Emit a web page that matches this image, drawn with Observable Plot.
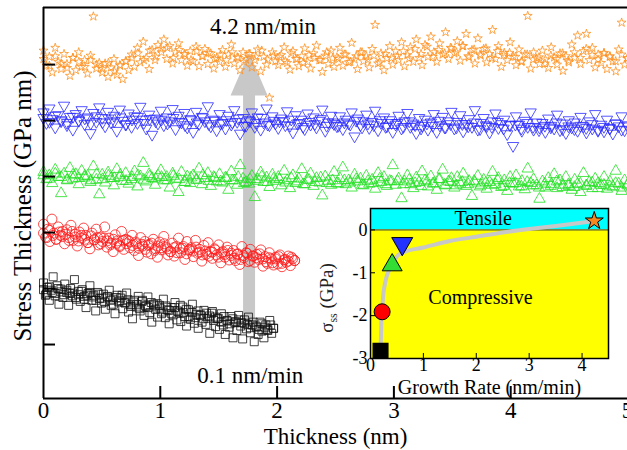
<!DOCTYPE html>
<html>
<head>
<meta charset="utf-8">
<script src="https://cdn.jsdelivr.net/npm/d3@7"></script>
<script src="https://cdn.jsdelivr.net/npm/@observablehq/plot@0.6"></script>
<style>
  html, body { margin: 0; padding: 0; background: white; }
  #wrap { position: relative; width: 627px; height: 450px; overflow: hidden; }
  #inset { position: absolute; left: 300px; top: 200px; }
  svg { background: transparent !important; }
</style>
</head>
<body>
<div id="wrap"><div id="main"></div><div id="inset"></div></div>
<script>
// ---------- Main panel data (stress thickness, offset units; thickness in nm) ----------
const xTicks = [0, 1, 2, 3, 4, 5];
const yTicks = [0, 1, 2, 3, 4, 5];

// end thickness of each run (nm); samples are evenly spaced in thickness
const blackEnd = 1.97, redEnd = 2.15, greenEnd = 5.0, blueEnd = 5.0, orangeEnd = 5.0;

const blackY = [
  1.10,0.88,1.02,0.79,0.97,1.21,0.91,1.05,0.72,0.99,
  0.84,1.08,0.93,0.70,1.00,0.87,1.16,0.81,0.95,0.77,
  0.98,0.86,0.66,0.91,1.05,0.79,0.88,0.60,0.93,0.82,
  0.74,0.90,0.63,0.85,0.97,0.70,0.81,0.55,0.88,0.76,
  0.83,0.64,0.75,0.92,0.58,0.71,0.46,0.79,0.67,0.86,
  0.60,0.77,0.52,0.68,0.85,0.57,0.40,0.72,0.63,0.49,
  0.70,0.55,0.81,0.48,0.62,0.37,0.66,0.53,0.75,0.44,
  0.58,0.41,0.67,0.50,0.33,0.62,0.45,0.72,0.38,0.54,
  0.29,0.52,0.40,0.61,0.36,0.47,0.20,0.56,0.43,0.32,
  0.46,0.27,0.55,0.35,0.18,0.42,0.31,0.50,0.12,0.39,
  0.25,0.44,0.33,0.10,0.38,0.28,0.49,0.21,0.35,0.05,
  0.31,0.18,0.40,0.24,0.12,0.35,0.27,0.43,0.20,0.29];
const blackCoreY = [
  0.98,0.90,1.03,0.93,0.87,1.00,0.94,0.89,0.97,0.91,
  0.92,0.84,0.89,0.95,0.81,0.88,0.93,0.85,0.79,0.90,
  0.83,0.76,0.86,0.79,0.72,0.84,0.78,0.88,0.74,0.80,
  0.68,0.76,0.71,0.64,0.79,0.70,0.66,0.75,0.69,0.73,
  0.65,0.58,0.69,0.61,0.55,0.66,0.60,0.70,0.57,0.63,
  0.50,0.57,0.48,0.60,0.53,0.46,0.56,0.51,0.59,0.49,
  0.47,0.40,0.50,0.43,0.37,0.46,0.41,0.52,0.39,0.44,
  0.36,0.30,0.40,0.33,0.27,0.37,0.31,0.25,0.35,0.29];

const redY = [
  2.15,1.92,2.06,1.84,2.24,1.99,1.88,2.10,1.95,2.02,
  1.80,2.05,1.91,2.13,1.86,1.97,1.76,2.01,1.90,2.08,
  1.95,1.82,1.71,1.99,1.87,2.06,1.78,1.92,1.84,2.10,
  1.74,1.90,1.81,1.66,1.96,1.85,1.77,2.02,1.70,1.88,
  1.86,1.73,1.95,1.68,1.80,1.59,1.91,1.76,1.84,1.65,
  1.79,1.62,1.88,1.71,1.56,1.83,1.69,1.93,1.74,1.60,
  1.66,1.81,1.58,1.75,1.90,1.64,1.72,1.52,1.84,1.69,
  1.73,1.57,1.86,1.63,1.70,1.49,1.77,1.61,1.82,1.66,
  1.54,1.71,1.60,1.78,1.46,1.66,1.56,1.74,1.51,1.63,
  1.68,1.50,1.62,1.43,1.75,1.55,1.64,1.48,1.70,1.58,
  1.47,1.61,1.52,1.69,1.40,1.57,1.45,1.64,1.53,1.42,
  1.56,1.44,1.60,1.39,1.51,1.47,1.58,1.41,1.53,1.50];
const redCoreY = [
  1.99,1.91,2.04,1.95,1.88,2.01,1.93,1.97,1.86,2.02,
  1.92,1.85,1.95,1.88,1.82,1.94,1.87,1.91,1.80,1.90,
  1.85,1.78,1.88,1.81,1.75,1.86,1.80,1.84,1.77,1.83,
  1.72,1.79,1.70,1.77,1.81,1.68,1.76,1.73,1.80,1.71,
  1.66,1.73,1.64,1.71,1.75,1.62,1.70,1.67,1.74,1.65,
  1.60,1.67,1.58,1.65,1.69,1.56,1.64,1.61,1.68,1.59,
  1.54,1.61,1.52,1.59,1.63,1.50,1.58,1.55,1.62,1.53,
  1.48,1.55,1.46,1.53,1.57,1.45,1.52,1.49,1.56,1.50];

const greenY = [
  3.08,2.95,3.02,2.88,3.12,2.99,2.70,3.05,2.93,3.15,
  2.96,3.04,2.86,3.10,2.98,3.01,2.90,3.18,2.94,2.68,
  3.03,2.89,3.07,2.97,2.84,3.13,2.99,2.92,3.06,2.87,
  2.95,3.09,2.82,3.00,3.24,2.91,3.04,2.97,2.85,3.02,
  3.11,2.93,2.99,2.80,3.05,2.96,2.72,3.08,2.90,3.00,
  2.88,3.02,2.94,3.14,2.86,2.97,3.06,2.83,2.99,2.91,
  3.04,2.89,2.98,2.76,3.09,2.93,2.85,3.20,2.96,2.90,
  2.87,3.01,2.63,2.95,3.07,2.90,2.98,2.81,3.03,2.92,
  2.99,2.84,3.10,2.93,2.79,3.02,2.88,2.96,3.13,2.86,
  2.94,3.05,2.83,2.97,2.89,2.66,3.00,2.92,2.85,3.08,
  2.88,2.97,3.16,2.86,2.93,2.80,3.03,2.91,2.96,2.84,
  3.01,2.87,2.94,2.78,3.06,2.90,2.99,2.83,2.92,3.20,
  2.85,2.96,2.61,2.91,3.02,2.86,2.79,2.98,2.90,3.09,
  2.93,2.82,3.00,2.88,2.76,2.95,3.12,2.84,2.91,2.97,
  2.80,2.99,2.87,3.05,2.83,2.92,2.65,2.89,3.01,2.85,
  2.94,2.78,2.90,3.08,2.86,2.97,2.81,2.93,2.74,2.99,
  2.87,3.02,2.82,2.92,2.77,3.14,2.88,2.95,2.84,2.60,
  2.91,2.80,2.97,2.86,3.04,2.79,2.93,2.85,2.99,2.83,
  2.76,2.94,2.87,2.72,3.06,2.84,2.90,2.79,2.96,2.88,
  2.85,2.99,2.78,2.91,2.82,3.10,2.87,2.74,2.93,2.86];
const greenCoreY = [
  3.02,2.96,3.05,2.99,2.94,3.03,2.97,3.01,2.93,3.04,
  2.95,3.01,2.97,3.03,2.92,2.99,3.02,2.94,3.00,2.96,
  2.99,2.93,3.01,2.95,2.90,2.98,2.94,3.02,2.92,2.97,
  2.91,2.97,2.93,2.99,2.88,2.95,2.92,3.00,2.90,2.96,
  2.95,2.89,2.97,2.91,2.86,2.94,2.90,2.98,2.88,2.93,
  2.87,2.93,2.89,2.95,2.85,2.92,2.88,2.96,2.86,2.91,
  2.92,2.86,2.94,2.88,2.83,2.91,2.87,2.95,2.85,2.90,
  2.84,2.90,2.86,2.92,2.82,2.89,2.85,2.93,2.83,2.88,
  2.88,2.82,2.90,2.84,2.80,2.87,2.83,2.91,2.81,2.86,
  2.81,2.87,2.83,2.89,2.79,2.85,2.82,2.88,2.80,2.84];

const blueY = [
  4.15,3.96,4.22,4.03,3.88,4.10,3.99,4.27,3.92,4.07,
  3.84,4.12,4.01,4.19,3.94,4.06,3.78,4.14,3.98,4.24,
  4.05,3.90,4.16,3.97,4.09,3.82,4.20,4.00,3.93,4.13,
  3.89,4.08,3.96,4.25,4.02,3.86,4.11,3.75,4.04,3.95,
  4.18,3.92,4.06,3.99,4.21,3.85,4.09,3.97,4.14,3.88,
  4.03,3.80,4.16,3.94,4.07,3.99,4.26,3.90,4.02,3.83,
  4.12,3.96,3.86,4.09,3.93,4.19,3.98,3.77,4.05,3.91,
  4.01,4.15,3.89,4.06,3.84,3.97,4.22,3.92,4.08,3.95,
  3.87,4.04,3.99,4.17,3.91,3.79,4.10,3.96,4.02,3.85,
  4.13,3.93,4.06,3.88,4.00,4.20,3.82,3.97,4.09,3.94,
  3.90,4.08,3.85,4.02,3.95,4.15,3.72,4.04,3.92,3.99,
  4.11,3.87,3.98,4.18,3.83,3.96,4.06,3.90,4.01,3.80,
  3.93,4.09,3.86,3.99,4.14,3.89,3.95,3.78,4.05,3.91,
  4.02,3.84,3.97,4.12,3.80,3.92,4.07,3.88,3.99,4.16,
  3.86,3.98,4.10,3.81,3.94,4.03,3.89,4.19,3.84,3.96,
  4.05,3.90,3.79,3.99,4.13,3.87,3.94,4.02,3.76,3.92,
  3.55,4.08,3.93,3.82,4.00,3.89,4.15,3.84,3.97,3.88,
  3.96,3.80,4.04,3.91,3.86,4.11,3.83,3.95,3.78,4.01,
  3.88,3.97,3.82,4.07,3.90,3.79,3.99,3.86,4.12,3.84,
  3.93,3.81,4.02,3.87,3.77,3.95,3.90,4.08,3.83,3.92];
const blueCoreY = [
  4.05,3.98,4.09,4.01,3.96,4.07,4.00,4.04,3.95,4.08,
  3.97,4.04,3.99,4.06,3.94,4.02,4.07,3.96,4.03,3.99,
  4.02,3.95,4.05,3.98,3.92,4.01,3.97,4.06,3.94,4.00,
  3.95,4.01,3.97,4.04,3.91,3.99,3.96,4.05,3.93,4.00,
  3.99,3.92,4.02,3.95,3.89,3.98,3.94,4.03,3.91,3.97,
  3.91,3.97,3.93,4.00,3.88,3.95,3.92,4.01,3.89,3.96,
  3.96,3.89,3.99,3.92,3.86,3.95,3.91,4.00,3.88,3.94,
  3.88,3.94,3.90,3.97,3.85,3.92,3.89,3.98,3.86,3.93,
  3.93,3.86,3.96,3.89,3.83,3.91,3.88,3.97,3.85,3.90,
  3.85,3.91,3.87,3.94,3.82,3.89,3.86,3.95,3.84,3.90];

const orangeY = [
  5.25,4.98,5.14,4.86,5.30,5.05,4.92,5.19,5.01,4.80,
  5.12,4.90,5.22,4.96,5.08,4.84,5.16,5.86,4.93,5.03,
  4.86,5.02,4.78,4.95,5.10,4.82,4.99,4.74,5.06,4.90,
  5.18,4.96,5.30,5.04,5.41,5.12,4.92,5.26,5.08,5.35,
  5.28,5.45,5.10,5.33,5.02,5.22,5.38,5.08,5.19,4.98,
  5.24,5.06,5.32,4.97,5.15,5.28,5.01,5.20,4.93,5.11,
  5.05,5.26,4.96,5.18,5.36,5.02,5.13,4.90,5.22,5.09,
  5.19,4.95,5.08,5.27,4.88,5.14,5.00,4.41,5.22,5.06,
  4.99,5.17,5.31,5.03,4.91,5.24,5.10,4.97,5.15,5.29,
  5.05,4.93,5.20,5.34,5.08,4.87,5.16,5.01,5.25,4.96,
  5.13,5.30,4.98,5.18,5.04,5.39,5.09,4.92,5.22,5.06,
  5.15,4.95,5.28,5.71,5.02,5.20,4.90,5.11,5.33,5.00,
  5.24,5.08,5.40,4.97,5.17,5.31,5.05,5.45,5.12,4.99,
  5.35,5.14,5.50,5.22,5.05,5.38,5.18,5.58,5.10,5.29,
  5.20,5.42,5.07,5.33,5.55,5.13,5.26,5.02,5.47,5.16,
  5.28,5.04,5.19,5.62,5.10,5.33,4.96,5.21,5.08,5.40,
  5.14,4.99,5.27,5.06,5.18,5.87,4.93,5.22,5.11,5.01,
  5.25,5.09,4.94,5.31,5.13,5.00,5.20,4.89,5.15,5.04,
  5.36,5.12,5.52,5.01,5.24,5.55,5.08,5.30,4.95,5.18,
  5.03,5.21,4.92,5.15,5.06,4.88,5.27,5.75,5.00,5.12];
const orangeCoreY = [
  5.10,4.98,5.15,5.02,4.94,5.12,5.05,4.96,5.08,5.00,
  4.92,5.03,4.88,4.98,5.06,5.12,5.20,5.08,5.25,5.14,
  5.22,5.30,5.12,5.26,5.18,5.08,5.24,5.15,5.21,5.10,
  5.18,5.08,5.22,5.12,5.05,5.19,5.14,5.25,5.09,5.16,
  5.14,5.06,5.20,5.10,5.03,5.17,5.12,5.08,5.22,5.11,
  5.10,5.18,5.05,5.15,5.22,5.09,5.16,5.04,5.19,5.12,
  5.15,5.24,5.11,5.28,5.19,5.32,5.14,5.26,5.20,5.30,
  5.22,5.33,5.15,5.27,5.18,5.29,5.12,5.24,5.17,5.21,
  5.14,5.05,5.18,5.09,5.13,5.02,5.16,5.10,5.20,5.07,
  5.22,5.12,5.28,5.17,5.09,5.20,5.14,5.06,5.18,5.11];

const arrowX = 1.76, arrowBottom = 0.3, arrowHeadBase = 4.45;
const rateLabels = ["4.2 nm/min", "0.1 nm/min"];
const rateLabelX = [1.88, 1.77];
const rateLabelY = [5.68, -0.55];

// ---------- Inset data ----------
const rates = [0.19, 0.22, 0.41, 0.60, 4.23];          // growth rate (nm/min)
const sigma = [-2.82, -1.91, -0.82, -0.32, 0.21];      // steady-state stress (GPa)
const fitRate  = [0.19, 0.20, 0.21, 0.23, 0.25, 0.32, 0.41, 0.53, 0.69, 1.0, 1.5, 2.0, 2.5, 3.0, 3.5, 4.2];
const fitSigma = [-2.75, -2.4, -2.0, -1.7, -1.42, -1.03, -0.8, -0.58, -0.49, -0.41, -0.26, -0.16, -0.06, 0.02, 0.09, 0.2];
const insetXTicks = [0, 1, 2, 3, 4];
const insetYTicks = [0, -1, -2, -3];

// ---------- build ----------
const serif = "Liberation Serif, Times New Roman, serif";
const toPts = (arr, end) => arr.map((v, i) => ({x: i * end / (arr.length - 1), y: v}));
const series = (a, b, end) => toPts(a, end).concat(toPts(b, end));

const triDown = {
  draw(ctx, size) {
    const y = -Math.sqrt(size / (Math.sqrt(3) * 3));
    ctx.moveTo(0, -y * 2);
    ctx.lineTo(-Math.sqrt(3) * y, y);
    ctx.lineTo(Math.sqrt(3) * y, y);
    ctx.closePath();
  }
};
const arrowHead = {
  draw(ctx) {
    ctx.moveTo(-18.5, 0);
    ctx.lineTo(18.5, 0);
    ctx.lineTo(0, -43);
    ctx.closePath();
  }
};

const yMin = -0.964, yMax = 6.02;
const main = Plot.plot({
  width: 627, height: 450,
  marginLeft: 43, marginRight: 0, marginTop: 7, marginBottom: 52,
  x: {domain: [0, 5]},
  y: {domain: [yMin, yMax]},
  style: {fontFamily: serif, background: "transparent", color: "black"},
  marks: [
    Plot.ruleX([arrowX], {y1: arrowBottom, y2: arrowHeadBase, stroke: "#c8c8c8", strokeWidth: 12}),
    Plot.dot([{x: arrowX, y: arrowHeadBase}], {x: "x", y: "y", symbol: arrowHead, fill: "#c8c8c8", stroke: "none"}),
    Plot.dot(series(orangeY, orangeCoreY, orangeEnd), {x: "x", y: "y", symbol: "star", r: 2.8, stroke: "#ff9020", strokeWidth: 0.8, fill: "none"}),
    Plot.dot(series(blueY, blueCoreY, blueEnd), {x: "x", y: "y", symbol: triDown, r: 4.2, stroke: "#2a2aff", strokeWidth: 0.8, fill: "none"}),
    Plot.dot(series(greenY, greenCoreY, greenEnd), {x: "x", y: "y", symbol: "triangle", r: 4.2, stroke: "#22e022", strokeWidth: 0.8, fill: "none"}),
    Plot.dot(series(redY, redCoreY, redEnd), {x: "x", y: "y", symbol: "circle", r: 5, stroke: "#ff1a1a", strokeWidth: 0.8, fill: "none"}),
    Plot.dot(series(blackY, blackCoreY, blackEnd), {x: "x", y: "y", symbol: "square", r: 4.5, stroke: "#111", strokeWidth: 0.8, fill: "none"}),
    Plot.text(rateLabels, {x: (d, i) => rateLabelX[i], y: (d, i) => rateLabelY[i], text: d => d, fontSize: 23, fill: "black"}),
    // frame (left, bottom, top)
    Plot.ruleX([0], {stroke: "black", strokeWidth: 2}),
    Plot.ruleY([yMin], {stroke: "black", strokeWidth: 2}),
    Plot.ruleY([yMax], {stroke: "black", strokeWidth: 2}),
    // inward ticks
    Plot.axisX({ticks: [1, 2, 3, 4], tickSize: 12, dy: -12, tickFormat: () => "", strokeWidth: 2, label: null}),
    Plot.axisY({ticks: yTicks, tickSize: 12, dx: 12, tickFormat: () => "", strokeWidth: 2, label: null}),
    // tick labels
    Plot.axisX({ticks: xTicks, tickSize: 0, tickPadding: 3, fontSize: 23, label: null, tickFormat: d => String(d)}),
    Plot.text(["Thickness (nm)"], {frameAnchor: "bottom", dy: 45, fontSize: 23, fill: "black"}),
    Plot.text(["Stress Thickness (GPa nm)"], {frameAnchor: "left", textAnchor: "middle", lineAnchor: "middle", dx: -21, dy: 3, rotate: -90, fontSize: 25, fill: "black"})
  ]
});
document.getElementById("main").append(main);

const inset = Plot.plot({
  width: 320, height: 200,
  marginLeft: 70, marginRight: 12, marginTop: 8, marginBottom: 42,
  x: {domain: [0, 4.5]},
  y: {domain: [-3, 0.5]},
  style: {fontFamily: serif, background: "transparent", color: "black"},
  marks: [
    Plot.rect([0], {x1: 0, x2: 4.5, y1: 0, y2: 0.5, fill: "#00ffff"}),
    Plot.rect([0], {x1: 0, x2: 4.5, y1: -3, y2: 0, fill: "#ffff00"}),
    Plot.ruleY([0], {stroke: "#333", strokeWidth: 1}),
    Plot.text(["Tensile"], {x: 2.13, y: 0.26, fontSize: 20, fill: "black"}),
    Plot.text(["Compressive"], {x: 2.08, y: -1.59, fontSize: 20, fill: "black"}),
    Plot.line(fitRate.map((r, i) => ({x: r, y: fitSigma[i]})), {x: "x", y: "y", curve: "catmull-rom", stroke: "#c8c8c8", strokeWidth: 4}),
    Plot.dot([{x: rates[0], y: sigma[0]}], {x: "x", y: "y", symbol: "square", r: 8.2, fill: "black", stroke: "black"}),
    Plot.dot([{x: rates[1], y: sigma[1]}], {x: "x", y: "y", symbol: "circle", r: 8, fill: "#ff0000", stroke: "black", strokeWidth: 1}),
    Plot.dot([{x: rates[2], y: sigma[2]}], {x: "x", y: "y", symbol: "triangle", r: 7.4, fill: "#33dd33", stroke: "black", strokeWidth: 1}),
    Plot.dot([{x: rates[3], y: sigma[3]}], {x: "x", y: "y", symbol: triDown, r: 7.8, fill: "#2233ff", stroke: "black", strokeWidth: 1}),
    Plot.dot([{x: rates[4], y: sigma[4]}], {x: "x", y: "y", symbol: "star", r: 5.7, fill: "#f7861e", stroke: "black", strokeWidth: 1}),
    Plot.frame({stroke: "black", strokeWidth: 1.5}),
    Plot.axisX({ticks: [1, 2, 3, 4], tickSize: 5, dy: -5, tickFormat: () => "", label: null}),
    Plot.axisY({ticks: [-2, -1, 0], tickSize: 5, dx: 5, tickFormat: () => "", label: null}),
    Plot.axisX({ticks: insetXTicks, tickSize: 0, tickPadding: 0, fontSize: 18, label: null, tickFormat: d => String(d)}),
    Plot.axisY({ticks: insetYTicks, tickSize: 0, tickPadding: 3, fontSize: 18, label: null, tickFormat: d => String(d)}),
    Plot.text(["Growth Rate (nm/min)"], {frameAnchor: "bottom", dy: 35, fontSize: 20, fill: "black"})
  ]
});
document.getElementById("inset").append(inset);

// rotated σ_ss (GPa) label with subscript
const isvg = d3.select(inset);
const lab = isvg.append("text")
  .attr("transform", "translate(33,98) rotate(-90)")
  .attr("text-anchor", "middle")
  .attr("font-family", serif)
  .attr("font-size", 19)
  .attr("fill", "#222");
lab.append("tspan").text("σ");
lab.append("tspan").attr("font-size", 12).attr("dy", 4).text("ss");
lab.append("tspan").attr("dy", -4).text(" (GPa)");
</script>
</body>
</html>
